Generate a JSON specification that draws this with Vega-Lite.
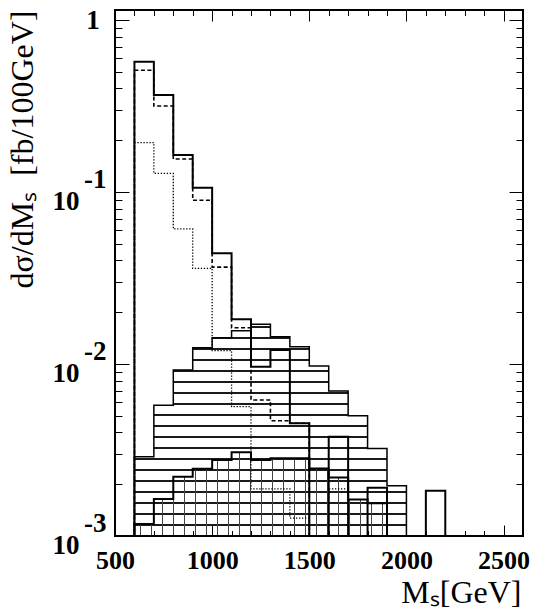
{
  "$schema": "https://vega.github.io/schema/vega-lite/v6.json",
  "width": 408,
  "height": 526,
  "autosize": {"type": "none"},
  "padding": {"left": 115, "top": 10, "right": 15, "bottom": 74},
  "background": "white",
  "config": {
    "font": "Liberation Serif",
    "view": {"stroke": "black", "strokeWidth": 2}
  },
  "datasets": {
    "hist": [
      {"s": "A", "lo": 600, "hi": 700, "v": 0.572},
      {"s": "A", "lo": 700, "hi": 800, "v": 0.366},
      {"s": "A", "lo": 800, "hi": 900, "v": 0.164},
      {"s": "A", "lo": 900, "hi": 1000, "v": 0.106},
      {"s": "A", "lo": 1000, "hi": 1100, "v": 0.044},
      {"s": "A", "lo": 1100, "hi": 1200, "v": 0.0182},
      {"s": "A", "lo": 1200, "hi": 1300, "v": 0.00965},
      {"s": "A", "lo": 1300, "hi": 1400, "v": 0.01205},
      {"s": "A", "lo": 1400, "hi": 1500, "v": 0.00452},
      {"s": "A", "lo": 1500, "hi": 1600, "v": 0.00001},
      {"s": "A", "lo": 1600, "hi": 1700, "v": 0.00378},
      {"s": "A", "lo": 1700, "hi": 1800, "v": 0.00001},
      {"s": "A", "lo": 1800, "hi": 1900, "v": 0.00191},
      {"s": "A", "lo": 1900, "hi": 2000, "v": 0.00001},
      {"s": "A", "lo": 2000, "hi": 2100, "v": 0.00001},
      {"s": "A", "lo": 2100, "hi": 2200, "v": 0.00183},
      {"s": "D", "lo": 600, "hi": 700, "v": 0.51},
      {"s": "D", "lo": 700, "hi": 800, "v": 0.316},
      {"s": "D", "lo": 800, "hi": 900, "v": 0.1555},
      {"s": "D", "lo": 900, "hi": 1000, "v": 0.0895},
      {"s": "D", "lo": 1000, "hi": 1100, "v": 0.0366},
      {"s": "D", "lo": 1100, "hi": 1200, "v": 0.01626},
      {"s": "D", "lo": 1200, "hi": 1300, "v": 0.00618},
      {"s": "D", "lo": 1300, "hi": 1400, "v": 0.00468},
      {"s": "D", "lo": 1400, "hi": 1500, "v": 0.00452},
      {"s": "T", "lo": 600, "hi": 700, "v": 0.1935},
      {"s": "T", "lo": 700, "hi": 800, "v": 0.1283},
      {"s": "T", "lo": 800, "hi": 900, "v": 0.061},
      {"s": "T", "lo": 900, "hi": 1000, "v": 0.036},
      {"s": "T", "lo": 1000, "hi": 1100, "v": 0.01195},
      {"s": "T", "lo": 1100, "hi": 1200, "v": 0.00565},
      {"s": "T", "lo": 1200, "hi": 1300, "v": 0.00188},
      {"s": "T", "lo": 1300, "hi": 1400, "v": 0.00188},
      {"s": "T", "lo": 1400, "hi": 1500, "v": 0.00127},
      {"s": "T", "lo": 1500, "hi": 1600, "v": 0.00001},
      {"s": "T", "lo": 1600, "hi": 1700, "v": 0.00188},
      {"s": "H", "lo": 600, "hi": 700, "v": 0.00289},
      {"s": "H", "lo": 700, "hi": 800, "v": 0.00575},
      {"s": "H", "lo": 800, "hi": 900, "v": 0.00923},
      {"s": "H", "lo": 900, "hi": 1000, "v": 0.01244},
      {"s": "H", "lo": 1000, "hi": 1100, "v": 0.01422},
      {"s": "H", "lo": 1100, "hi": 1200, "v": 0.01562},
      {"s": "H", "lo": 1200, "hi": 1300, "v": 0.01701},
      {"s": "H", "lo": 1300, "hi": 1400, "v": 0.01442},
      {"s": "H", "lo": 1400, "hi": 1500, "v": 0.01261},
      {"s": "H", "lo": 1500, "hi": 1600, "v": 0.00973},
      {"s": "H", "lo": 1600, "hi": 1700, "v": 0.00697},
      {"s": "H", "lo": 1700, "hi": 1800, "v": 0.005},
      {"s": "H", "lo": 1800, "hi": 1900, "v": 0.00323},
      {"s": "H", "lo": 1900, "hi": 2000, "v": 0.00196},
      {"s": "V", "lo": 600, "hi": 700, "v": 0.001174},
      {"s": "V", "lo": 700, "hi": 800, "v": 0.00164},
      {"s": "V", "lo": 800, "hi": 900, "v": 0.00221},
      {"s": "V", "lo": 900, "hi": 1000, "v": 0.00246},
      {"s": "V", "lo": 1000, "hi": 1100, "v": 0.00277},
      {"s": "V", "lo": 1100, "hi": 1200, "v": 0.00307},
      {"s": "V", "lo": 1200, "hi": 1300, "v": 0.00277},
      {"s": "V", "lo": 1300, "hi": 1400, "v": 0.00283},
      {"s": "V", "lo": 1400, "hi": 1500, "v": 0.00283},
      {"s": "V", "lo": 1500, "hi": 1600, "v": 0.00247},
      {"s": "V", "lo": 1600, "hi": 1700, "v": 0.00219},
      {"s": "V", "lo": 1700, "hi": 1800, "v": 0.00163},
      {"s": "V", "lo": 1800, "hi": 1900, "v": 0.00155}
    ]
  },
  "layer": [
    {
      "data": {"name": "hist"},
      "transform": [{"filter": "datum.s === 'H'"}, {"fold": ["lo", "hi"], "as": ["edge", "x"]}],
      "mark": {
        "type": "area", "clip": true, "stroke": "black", "strokeWidth": 1.5,
        "fill": {"gradient": "linear", "x1": 0, "y1": 0, "x2": 0, "y2": 1, "stops": [
          {"offset": 0, "color": "rgba(0,0,0,0)"},
          {"offset": 0.0100, "color": "rgba(0,0,0,0)"}, {"offset": 0.0100, "color": "#1a1a1a"}, {"offset": 0.0152, "color": "#1a1a1a"}, {"offset": 0.0152, "color": "rgba(0,0,0,0)"},
          {"offset": 0.0620, "color": "rgba(0,0,0,0)"}, {"offset": 0.0620, "color": "#1a1a1a"}, {"offset": 0.0672, "color": "#1a1a1a"}, {"offset": 0.0672, "color": "rgba(0,0,0,0)"},
          {"offset": 0.1139, "color": "rgba(0,0,0,0)"}, {"offset": 0.1139, "color": "#1a1a1a"}, {"offset": 0.1191, "color": "#1a1a1a"}, {"offset": 0.1191, "color": "rgba(0,0,0,0)"},
          {"offset": 0.1659, "color": "rgba(0,0,0,0)"}, {"offset": 0.1659, "color": "#1a1a1a"}, {"offset": 0.1711, "color": "#1a1a1a"}, {"offset": 0.1711, "color": "rgba(0,0,0,0)"},
          {"offset": 0.2179, "color": "rgba(0,0,0,0)"}, {"offset": 0.2179, "color": "#1a1a1a"}, {"offset": 0.2231, "color": "#1a1a1a"}, {"offset": 0.2231, "color": "rgba(0,0,0,0)"},
          {"offset": 0.2699, "color": "rgba(0,0,0,0)"}, {"offset": 0.2699, "color": "#1a1a1a"}, {"offset": 0.2751, "color": "#1a1a1a"}, {"offset": 0.2751, "color": "rgba(0,0,0,0)"},
          {"offset": 0.3218, "color": "rgba(0,0,0,0)"}, {"offset": 0.3218, "color": "#1a1a1a"}, {"offset": 0.3270, "color": "#1a1a1a"}, {"offset": 0.3270, "color": "rgba(0,0,0,0)"},
          {"offset": 0.3738, "color": "rgba(0,0,0,0)"}, {"offset": 0.3738, "color": "#1a1a1a"}, {"offset": 0.3790, "color": "#1a1a1a"}, {"offset": 0.3790, "color": "rgba(0,0,0,0)"},
          {"offset": 0.4258, "color": "rgba(0,0,0,0)"}, {"offset": 0.4258, "color": "#1a1a1a"}, {"offset": 0.4310, "color": "#1a1a1a"}, {"offset": 0.4310, "color": "rgba(0,0,0,0)"},
          {"offset": 0.4777, "color": "rgba(0,0,0,0)"}, {"offset": 0.4777, "color": "#1a1a1a"}, {"offset": 0.4829, "color": "#1a1a1a"}, {"offset": 0.4829, "color": "rgba(0,0,0,0)"},
          {"offset": 0.5297, "color": "rgba(0,0,0,0)"}, {"offset": 0.5297, "color": "#1a1a1a"}, {"offset": 0.5349, "color": "#1a1a1a"}, {"offset": 0.5349, "color": "rgba(0,0,0,0)"},
          {"offset": 0.5817, "color": "rgba(0,0,0,0)"}, {"offset": 0.5817, "color": "#1a1a1a"}, {"offset": 0.5869, "color": "#1a1a1a"}, {"offset": 0.5869, "color": "rgba(0,0,0,0)"},
          {"offset": 0.6336, "color": "rgba(0,0,0,0)"}, {"offset": 0.6336, "color": "#1a1a1a"}, {"offset": 0.6388, "color": "#1a1a1a"}, {"offset": 0.6388, "color": "rgba(0,0,0,0)"},
          {"offset": 0.6856, "color": "rgba(0,0,0,0)"}, {"offset": 0.6856, "color": "#1a1a1a"}, {"offset": 0.6908, "color": "#1a1a1a"}, {"offset": 0.6908, "color": "rgba(0,0,0,0)"},
          {"offset": 0.7376, "color": "rgba(0,0,0,0)"}, {"offset": 0.7376, "color": "#1a1a1a"}, {"offset": 0.7428, "color": "#1a1a1a"}, {"offset": 0.7428, "color": "rgba(0,0,0,0)"},
          {"offset": 0.7895, "color": "rgba(0,0,0,0)"}, {"offset": 0.7895, "color": "#1a1a1a"}, {"offset": 0.7947, "color": "#1a1a1a"}, {"offset": 0.7947, "color": "rgba(0,0,0,0)"},
          {"offset": 0.8415, "color": "rgba(0,0,0,0)"}, {"offset": 0.8415, "color": "#1a1a1a"}, {"offset": 0.8467, "color": "#1a1a1a"}, {"offset": 0.8467, "color": "rgba(0,0,0,0)"},
          {"offset": 0.8935, "color": "rgba(0,0,0,0)"}, {"offset": 0.8935, "color": "#1a1a1a"}, {"offset": 0.8987, "color": "#1a1a1a"}, {"offset": 0.8987, "color": "rgba(0,0,0,0)"},
          {"offset": 0.9454, "color": "rgba(0,0,0,0)"}, {"offset": 0.9454, "color": "#1a1a1a"}, {"offset": 0.9506, "color": "#1a1a1a"}, {"offset": 0.9506, "color": "rgba(0,0,0,0)"},
          {"offset": 1, "color": "rgba(0,0,0,0)"}
        ]}
      },
      "encoding": {
        "x": {
          "field": "x", "type": "quantitative",
          "scale": {"domain": [500, 2600], "nice": false, "zero": false},
          "axis": {
            "orient": "bottom",
            "values": [500, 600, 700, 800, 900, 1000, 1100, 1200, 1300, 1400, 1500, 1600, 1700, 1800, 1900, 2000, 2100, 2200, 2300, 2400, 2500, 2600],
            "format": "d",
            "labelExpr": "datum.value % 500 === 0 ? datum.label : ''",
            "tickSize": {"condition": {"test": "datum.value % 500 === 0", "value": -11}, "value": -5.5},
            "tickColor": "black", "tickWidth": 1,
            "domain": false, "grid": false,
            "labelFont": "Liberation Serif", "labelFontWeight": "bold", "labelFontSize": 26, "labelColor": "black",
            "labelPadding": 22, "labelFlush": false, "labelOverlap": false, "labelBound": false,
            "title": "Mₛ[GeV]",
            "titleFont": "Liberation Serif", "titleFontWeight": "normal", "titleFontSize": 32, "titleColor": "black",
            "titleAnchor": "end", "titleAlign": "right", "titleBaseline": "alphabetic", "titleX": 406, "titleY": 66
          }
        },
        "y": {
          "field": "v", "type": "quantitative", "stack": null,
          "scale": {"type": "log", "domain": [0.001, 1.1434], "nice": false},
          "axis": {
            "orient": "left",
            "values": [0.001, 0.002, 0.003, 0.004, 0.005, 0.006, 0.007, 0.008, 0.009, 0.01, 0.02, 0.03, 0.04, 0.05, 0.06, 0.07, 0.08, 0.09, 0.1, 0.2, 0.3, 0.4, 0.5, 0.6, 0.7, 0.8, 0.9, 1],
            "labelExpr": "abs(log(datum.value)/LN10 - round(log(datum.value)/LN10)) > 0.001 ? '' : (round(log(datum.value)/LN10) == 0 ? '1\u00a0\u2060' : ['-' + abs(round(log(datum.value)/LN10)), '10\u00a0\u00a0\u00a0\u00a0\u2060'])",
            "tickSize": {"condition": {"test": "abs(log(datum.value)/LN10 - round(log(datum.value)/LN10)) < 0.001", "value": -14}, "value": -7},
            "tickColor": "black", "tickWidth": 1,
            "domain": false, "grid": false,
            "labelFont": "Liberation Serif", "labelFontWeight": "bold", "labelFontSize": 27, "labelColor": "black",
            "labelPadding": 23, "labelFlush": false, "labelOverlap": false, "labelBound": false,
            "labelLineHeight": 22, "labelBaseline": "middle",
            "labelOffset": {"condition": {"test": "datum.value > 0.5", "value": 0}, "value": -13},
            "title": "dσ/dMₛ\u00a0\u00a0[fb/100GeV]",
            "titleFont": "Liberation Serif", "titleFontWeight": "normal", "titleFontSize": 32, "titleColor": "black",
            "titleAngle": -90, "titleAlign": "right", "titleBaseline": "alphabetic", "titleX": -83, "titleY": 0
          }
        },
        "y2": {"datum": 0.001},
        "order": [{"field": "x", "type": "quantitative"}, {"field": "edge", "type": "nominal"}]
      }
    },
    {
      "data": {"name": "hist"},
      "transform": [{"filter": "datum.s === 'V'"}, {"fold": ["lo", "hi"], "as": ["edge", "x"]}],
      "mark": {
        "type": "area", "clip": true, "stroke": "black", "strokeWidth": 2,
        "fill": {"gradient": "linear", "x1": 0, "y1": 0, "x2": 1, "y2": 0, "stops": [
          {"offset": 0, "color": "rgba(0,0,0,0)"},
          {"offset": 0.0220, "color": "rgba(0,0,0,0)"}, {"offset": 0.0220, "color": "#444"}, {"offset": 0.0260, "color": "#444"}, {"offset": 0.0260, "color": "rgba(0,0,0,0)"},
          {"offset": 0.0656, "color": "rgba(0,0,0,0)"}, {"offset": 0.0656, "color": "#444"}, {"offset": 0.0696, "color": "#444"}, {"offset": 0.0696, "color": "rgba(0,0,0,0)"},
          {"offset": 0.1091, "color": "rgba(0,0,0,0)"}, {"offset": 0.1091, "color": "#444"}, {"offset": 0.1131, "color": "#444"}, {"offset": 0.1131, "color": "rgba(0,0,0,0)"},
          {"offset": 0.1527, "color": "rgba(0,0,0,0)"}, {"offset": 0.1527, "color": "#444"}, {"offset": 0.1567, "color": "#444"}, {"offset": 0.1567, "color": "rgba(0,0,0,0)"},
          {"offset": 0.1962, "color": "rgba(0,0,0,0)"}, {"offset": 0.1962, "color": "#444"}, {"offset": 0.2002, "color": "#444"}, {"offset": 0.2002, "color": "rgba(0,0,0,0)"},
          {"offset": 0.2398, "color": "rgba(0,0,0,0)"}, {"offset": 0.2398, "color": "#444"}, {"offset": 0.2438, "color": "#444"}, {"offset": 0.2438, "color": "rgba(0,0,0,0)"},
          {"offset": 0.2833, "color": "rgba(0,0,0,0)"}, {"offset": 0.2833, "color": "#444"}, {"offset": 0.2873, "color": "#444"}, {"offset": 0.2873, "color": "rgba(0,0,0,0)"},
          {"offset": 0.3269, "color": "rgba(0,0,0,0)"}, {"offset": 0.3269, "color": "#444"}, {"offset": 0.3309, "color": "#444"}, {"offset": 0.3309, "color": "rgba(0,0,0,0)"},
          {"offset": 0.3705, "color": "rgba(0,0,0,0)"}, {"offset": 0.3705, "color": "#444"}, {"offset": 0.3745, "color": "#444"}, {"offset": 0.3745, "color": "rgba(0,0,0,0)"},
          {"offset": 0.4140, "color": "rgba(0,0,0,0)"}, {"offset": 0.4140, "color": "#444"}, {"offset": 0.4180, "color": "#444"}, {"offset": 0.4180, "color": "rgba(0,0,0,0)"},
          {"offset": 0.4576, "color": "rgba(0,0,0,0)"}, {"offset": 0.4576, "color": "#444"}, {"offset": 0.4616, "color": "#444"}, {"offset": 0.4616, "color": "rgba(0,0,0,0)"},
          {"offset": 0.5011, "color": "rgba(0,0,0,0)"}, {"offset": 0.5011, "color": "#444"}, {"offset": 0.5051, "color": "#444"}, {"offset": 0.5051, "color": "rgba(0,0,0,0)"},
          {"offset": 0.5447, "color": "rgba(0,0,0,0)"}, {"offset": 0.5447, "color": "#444"}, {"offset": 0.5487, "color": "#444"}, {"offset": 0.5487, "color": "rgba(0,0,0,0)"},
          {"offset": 0.5882, "color": "rgba(0,0,0,0)"}, {"offset": 0.5882, "color": "#444"}, {"offset": 0.5922, "color": "#444"}, {"offset": 0.5922, "color": "rgba(0,0,0,0)"},
          {"offset": 0.6318, "color": "rgba(0,0,0,0)"}, {"offset": 0.6318, "color": "#444"}, {"offset": 0.6358, "color": "#444"}, {"offset": 0.6358, "color": "rgba(0,0,0,0)"},
          {"offset": 0.6753, "color": "rgba(0,0,0,0)"}, {"offset": 0.6753, "color": "#444"}, {"offset": 0.6793, "color": "#444"}, {"offset": 0.6793, "color": "rgba(0,0,0,0)"},
          {"offset": 0.7189, "color": "rgba(0,0,0,0)"}, {"offset": 0.7189, "color": "#444"}, {"offset": 0.7229, "color": "#444"}, {"offset": 0.7229, "color": "rgba(0,0,0,0)"},
          {"offset": 0.7624, "color": "rgba(0,0,0,0)"}, {"offset": 0.7624, "color": "#444"}, {"offset": 0.7664, "color": "#444"}, {"offset": 0.7664, "color": "rgba(0,0,0,0)"},
          {"offset": 0.8060, "color": "rgba(0,0,0,0)"}, {"offset": 0.8060, "color": "#444"}, {"offset": 0.8100, "color": "#444"}, {"offset": 0.8100, "color": "rgba(0,0,0,0)"},
          {"offset": 0.8495, "color": "rgba(0,0,0,0)"}, {"offset": 0.8495, "color": "#444"}, {"offset": 0.8535, "color": "#444"}, {"offset": 0.8535, "color": "rgba(0,0,0,0)"},
          {"offset": 0.8931, "color": "rgba(0,0,0,0)"}, {"offset": 0.8931, "color": "#444"}, {"offset": 0.8971, "color": "#444"}, {"offset": 0.8971, "color": "rgba(0,0,0,0)"},
          {"offset": 0.9366, "color": "rgba(0,0,0,0)"}, {"offset": 0.9366, "color": "#444"}, {"offset": 0.9406, "color": "#444"}, {"offset": 0.9406, "color": "rgba(0,0,0,0)"},
          {"offset": 0.9802, "color": "rgba(0,0,0,0)"}, {"offset": 0.9802, "color": "#444"}, {"offset": 0.9842, "color": "#444"}, {"offset": 0.9842, "color": "rgba(0,0,0,0)"},
          {"offset": 1, "color": "rgba(0,0,0,0)"}
        ]}
      },
      "encoding": {
        "x": {
          "field": "x", "type": "quantitative",
          "axis": {
            "orient": "top",
            "values": [500, 600, 700, 800, 900, 1000, 1100, 1200, 1300, 1400, 1500, 1600, 1700, 1800, 1900, 2000, 2100, 2200, 2300, 2400, 2500, 2600],
            "labels": false,
            "tickSize": {"condition": {"test": "datum.value % 500 === 0", "value": -11}, "value": -5.5},
            "tickColor": "black", "tickWidth": 1,
            "domain": false, "grid": false, "title": null
          }
        },
        "y": {
          "field": "v", "type": "quantitative", "stack": null,
          "axis": {
            "orient": "right",
            "values": [0.001, 0.002, 0.003, 0.004, 0.005, 0.006, 0.007, 0.008, 0.009, 0.01, 0.02, 0.03, 0.04, 0.05, 0.06, 0.07, 0.08, 0.09, 0.1, 0.2, 0.3, 0.4, 0.5, 0.6, 0.7, 0.8, 0.9, 1],
            "labels": false,
            "tickSize": {"condition": {"test": "abs(log(datum.value)/LN10 - round(log(datum.value)/LN10)) < 0.001", "value": -14}, "value": -7},
            "tickColor": "black", "tickWidth": 1,
            "domain": false, "grid": false, "title": null
          }
        },
        "y2": {"datum": 0.001},
        "order": [{"field": "x", "type": "quantitative"}, {"field": "edge", "type": "nominal"}]
      }
    },
    {
      "data": {"name": "hist"},
      "transform": [{"filter": "datum.s === 'T'"}, {"fold": ["lo", "hi"], "as": ["edge", "x"]}],
      "mark": {"type": "area", "clip": true, "fill": "transparent", "stroke": "black", "strokeWidth": 1.3, "strokeDash": [1.3, 1.7]},
      "encoding": {
        "x": {"field": "x", "type": "quantitative", "axis": null},
        "y": {"field": "v", "type": "quantitative", "stack": null, "axis": null},
        "y2": {"datum": 0.001},
        "order": [{"field": "x", "type": "quantitative"}, {"field": "edge", "type": "nominal"}]
      }
    },
    {
      "data": {"name": "hist"},
      "transform": [{"filter": "datum.s === 'D'"}, {"fold": ["lo", "hi"], "as": ["edge", "x"]}],
      "mark": {"type": "area", "clip": true, "fill": "transparent", "stroke": "black", "strokeWidth": 1.6, "strokeDash": [4, 2.5]},
      "encoding": {
        "x": {"field": "x", "type": "quantitative", "axis": null},
        "y": {"field": "v", "type": "quantitative", "stack": null, "axis": null},
        "y2": {"datum": 0.001},
        "order": [{"field": "x", "type": "quantitative"}, {"field": "edge", "type": "nominal"}]
      }
    },
    {
      "data": {"name": "hist"},
      "transform": [{"filter": "datum.s === 'A'"}, {"fold": ["lo", "hi"], "as": ["edge", "x"]}],
      "mark": {"type": "area", "clip": true, "fill": "transparent", "stroke": "black", "strokeWidth": 2},
      "encoding": {
        "x": {"field": "x", "type": "quantitative", "axis": null},
        "y": {"field": "v", "type": "quantitative", "stack": null, "axis": null},
        "y2": {"datum": 0.001},
        "order": [{"field": "x", "type": "quantitative"}, {"field": "edge", "type": "nominal"}]
      }
    },
    {
      "mark": {"type": "rect", "fill": "#00ff00", "stroke": "#444", "strokeWidth": 1},
      "encoding": {
        "x": {"datum": 1658, "type": "quantitative", "axis": null},
        "x2": {"datum": 2487},
        "y": {"datum": 0.83, "type": "quantitative", "axis": null},
        "y2": {"datum": 0.378}
      }
    },
    {
      "mark": {"type": "rect", "fill": "white", "stroke": "#222", "strokeWidth": 1.2},
      "encoding": {
        "x": {"datum": 1627, "type": "quantitative", "axis": null},
        "x2": {"datum": 2459},
        "y": {"datum": 0.773, "type": "quantitative", "axis": null},
        "y2": {"datum": 0.351}
      }
    },
    {
      "mark": {"type": "text", "text": "Tripler", "font": "Liberation Serif", "fontSize": 28, "align": "left", "baseline": "alphabetic", "color": "black"},
      "encoding": {
        "x": {"datum": 1718, "type": "quantitative", "axis": null},
        "y": {"datum": 0.526, "type": "quantitative", "axis": null}
      }
    }
  ]
}
